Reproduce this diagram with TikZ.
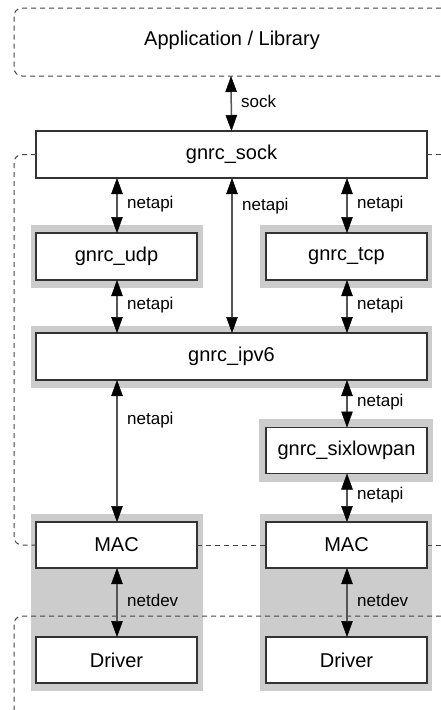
\documentclass[tikz,border=0pt]{standalone}
\usepackage{fontspec}
\setmainfont{Liberation Sans}
\usetikzlibrary{arrows.meta}

\definecolor{boxline}{HTML}{333333}
\definecolor{shaft}{HTML}{555555}
\definecolor{bggray}{HTML}{CCCCCC}
\definecolor{dashline}{HTML}{444444}

\tikzset{
  tipshape/.tip={Triangle[length=16pt,width=11.5pt,fill=black,color=black,line width=0.5pt]},
  module/.style={draw=boxline, line width=1.3pt, fill=white, inner sep=0pt, outer sep=0pt,
    font=\fontsize{20}{24}\selectfont},
  wide/.style={minimum width=391pt, minimum height=47pt},
  narrow/.style={minimum width=161pt, minimum height=47pt},
  shade/.style={fill=bggray, draw=none, inner sep=0pt, outer sep=0pt},
  region/.style={draw=dashline, line width=1pt, dash pattern=on 5pt off 4pt, rounded corners=8pt},
  iface/.style={draw=shaft, line width=1.5pt, {tipshape}-{tipshape}},
  lbl/.style={anchor=west, inner sep=0pt, font=\fontsize{17}{20}\selectfont}
}

\begin{document}
\begin{tikzpicture}[x=1pt,y=-1pt]
  \useasboundingbox (0,0) rectangle (441,710);
  \clip (0,0) rectangle (441,710);
  \fill[white] (0,0) rectangle (441,710);

  % column guides
  \coordinate (lx) at (117,0);
  \coordinate (rx) at (347,0);
  \coordinate (mx) at (232,0);
  \coordinate (edge) at (14,0);
  \coordinate (far) at (450,0);

  % grey module groups
  \node[shade, minimum width=172pt, minimum height=63pt] (udpbg) at (117,256.5) {};
  \node[shade, minimum width=172pt, minimum height=63pt] (tcpbg) at (346,256.5) {};
  \node[shade, minimum width=401pt, minimum height=62pt] (ipbg) at (231.5,357) {};
  \node[shade, minimum width=174pt, minimum height=63pt] (sixbg) at (346,450.5) {};
  \node[shade, minimum width=172pt, minimum height=177pt] (devbgl) at (117,602.5) {};
  \node[shade, minimum width=172pt, minimum height=177pt] (devbgr) at (346,602.5) {};

  % application layer
  \draw[region] (450,8) -- (14,8) -- (14,76) -- (450,76);
  \node[font=\fontsize{20}{24}\selectfont] (app) at (232,40) {Application / Library};
  \coordinate (appbot) at (231,76);

  % modules
  \node[module, wide] (sock) at (231.5,154.5) {gnrc\_sock};
  \node[module, narrow] (udp) at (116.5,256.5) {gnrc\_udp};
  \node[module, narrow] (tcp) at (346.5,256.5) {gnrc\_tcp};
  \node[module, wide] (ipv6) at (231.5,356.5) {gnrc\_ipv6};
  \node[module, narrow, minimum height=46pt] (six) at (346.5,450.5) {gnrc\_sixlowpan};
  \node[module, narrow, minimum height=46pt] (macl) at (116.5,545) {MAC};
  \node[module, narrow, minimum height=46pt] (macr) at (346.5,545) {MAC};
  \node[module, narrow, minimum height=46pt] (drvl) at (116.5,660) {Driver};
  \node[module, narrow, minimum height=46pt] (drvr) at (346.5,660) {Driver};

  % GNRC stack boundary
  \draw[region] (sock.west) -- (sock.west -| edge) -- (macl.west -| edge) -- (macl.west);
  \draw[region, rounded corners=0pt] (sock.east) -- (sock.east -| far);
  \draw[region, rounded corners=0pt] (macl.east) -- (macr.west);
  \draw[region, rounded corners=0pt] (macr.east) -- (macr.east -| far);

  % driver layer boundary
  \coordinate (drvtop) at (450,616);
  \coordinate (drvbot) at (14,720);
  \draw[region] (drvtop) -- (drvtop -| edge) -- (drvbot);

  % interfaces
  \draw[iface] (appbot) -- (sock.north);
  \draw[iface] (sock.south -| lx) -- (udp.north -| lx);
  \draw[iface] (sock.south -| rx) -- (tcp.north -| rx);
  \draw[iface] (sock.south -| mx) -- (ipv6.north -| mx);
  \draw[iface] (udp.south -| lx) -- (ipv6.north -| lx);
  \draw[iface] (tcp.south -| rx) -- (ipv6.north -| rx);
  \draw[iface] (ipv6.south -| lx) -- (macl.north -| lx);
  \draw[iface] (ipv6.south -| rx) -- (six.north -| rx);
  \draw[iface] (six.south -| rx) -- (macr.north -| rx);
  \draw[iface] (macl.south -| lx) -- (drvl.north -| lx);
  \draw[iface] (macr.south -| rx) -- (drvr.north -| rx);

  % interface labels
  \node[lbl] (lsock) at (241,101) {sock};
  \node[lbl] (l1) at (127,204) {netapi};
  \node[lbl] (l2) at (357,204) {netapi};
  \node[lbl] (l3) at (242,206) {netapi};
  \node[lbl] (l4) at (127,305) {netapi};
  \node[lbl] (l5) at (357,305) {netapi};
  \node[lbl] (l6) at (127,420) {netapi};
  \node[lbl] (l7) at (357,402) {netapi};
  \node[lbl] (l8) at (357,495) {netapi};
  \node[lbl] (l9) at (127,600) {netdev};
  \node[lbl] (l10) at (357,600) {netdev};
\end{tikzpicture}
\end{document}
